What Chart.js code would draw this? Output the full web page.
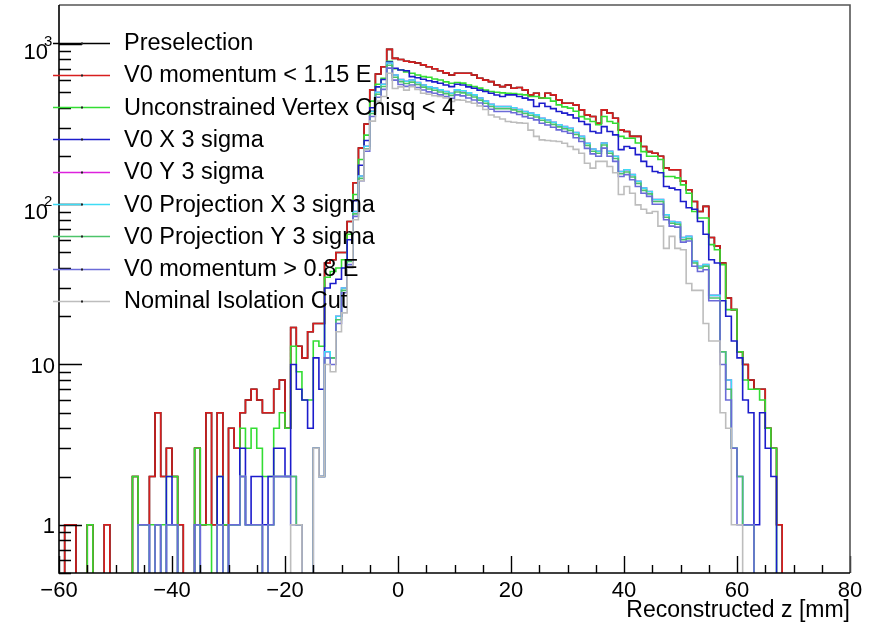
<!DOCTYPE html>
<html>
<head>
<meta charset="utf-8">
<script src="https://cdn.jsdelivr.net/npm/chart.js@4.4.1/dist/chart.umd.min.js"></script>
<style>
  html, body { margin: 0; padding: 0; background: #fff; }
</style>
</head>
<body>
<canvas id="zplot" width="871" height="623"></canvas>
<script>
// histogram binning: 1 mm bins starting at -60 mm
const binStart = -60;
const binWidth = 1;

const xTickValues = [-60, -40, -20, 0, 20, 40, 60, 80];
const yTickValues = [1, 10, 100, 1000];
// mantissa and exponent of the y labels, ROOT prints 10^n with a raised n
const yTickBase = ['1', '10', '10', '10'];
const yTickExp = ['', '', '2', '3'];

const seriesLabels = [
    'Preselection',
    'V0 momentum < 1.15 E',
    'Unconstrained Vertex Chisq < 4',
    'V0 X 3 sigma',
    'V0 Y 3 sigma',
    'V0 Projection X 3 sigma',
    'V0 Projection Y 3 sigma',
    'V0 momentum > 0.8 E',
    'Nominal Isolation Cut'
];
const seriesColors = ['#000000', '#d81e1e', '#33dd33', '#1c1ccc', '#dd22dd', '#3fdcf5', '#4cc46a', '#6b6bd8', '#bdbdbd'];

// counts per bin, first entry is the bin [-60, -59)
const momLow = [
    0, 1, 1, 0, 0, 1, 0, 0, 1, 0,
    0, 0, 0, 2, 1, 1, 2, 5, 2, 3,
    2, 1, 0, 0, 3, 1, 5, 1, 5, 1,
    4, 3, 5, 6, 7, 6, 5, 5, 7, 8,
    4, 17, 13, 11, 16, 18, 18, 43, 45, 50,
    50, 78, 136, 224, 316, 517, 650, 720, 925, 813,
    800, 780, 770, 760, 740, 720, 700, 680, 660, 640,
    656, 656, 656, 640, 611, 595, 582, 555, 542, 555,
    529, 535, 517, 481, 493, 459, 493, 481, 448, 427,
    427, 417, 388, 361, 353, 320, 388, 370, 344, 291,
    284, 265, 265, 229, 213, 208, 199, 168, 164, 164,
    139, 123, 104, 90, 97, 62, 55, 43, 26, 22,
    12, 10, 8, 7, 7, 4, 3, 1
];
// preselection sits exactly under the momentum < 1.15 E curve
const preselection = momLow;
const vtxChisq = [
    0, 0, 0, 0, 0, 1, 0, 0, 0, 0,
    0, 0, 0, 2, 1, 1, 1, 1, 1, 2,
    2, 0, 0, 0, 3, 1, 1, 0, 2, 1,
    1, 1, 4, 3, 4, 3, 2, 2, 4, 5,
    4, 13, 9, 6, 6, 14, 13, 35, 38, 40,
    45, 65, 115, 190, 270, 440, 560, 610, 780, 700,
    690, 670, 656, 640, 625, 620, 605, 596, 580, 568,
    575, 570, 555, 542, 530, 515, 505, 500, 495, 493,
    490, 485, 481, 470, 470, 460, 459, 440, 417, 405,
    398, 380, 352, 340, 328, 313, 353, 328, 320, 265,
    258, 258, 241, 213, 199, 199, 190, 149, 149, 146,
    132, 117, 90, 82, 82, 56, 52, 42, 22, 22,
    12, 8, 7, 7, 6, 4, 3, 0
];
const v0X = [
    0, 0, 0, 0, 0, 0, 0, 0, 0, 0,
    0, 0, 0, 0, 1, 1, 0, 1, 0, 2,
    1, 0, 0, 0, 1, 0, 0, 0, 2, 0,
    1, 1, 3, 1, 2, 2, 1, 2, 3, 3,
    2, 10, 7, 6, 4, 11, 7, 30, 32, 34,
    40, 60, 105, 175, 250, 400, 540, 600, 770, 705,
    688, 680, 625, 615, 602, 590, 580, 568, 555, 542,
    560, 555, 540, 529, 515, 505, 493, 480, 470, 481,
    481, 470, 459, 448, 407, 427, 407, 395, 379, 370,
    361, 345, 328, 315, 284, 278, 305, 284, 271, 219,
    229, 224, 204, 185, 172, 160, 157, 129, 126, 123,
    104, 95, 93, 78, 65, 45, 43, 25, 20, 14,
    11, 6, 5, 1, 5, 3, 2, 0
];
const v0Y = [
    0, 0, 0, 0, 0, 0, 0, 0, 0, 0,
    0, 0, 0, 0, 1, 1, 0, 1, 0, 1,
    1, 0, 0, 0, 1, 0, 0, 0, 1, 0,
    1, 1, 2, 1, 1, 1, 0, 1, 2, 2,
    2, 2, 1, 0, 0, 3, 2, 12, 11, 20,
    30, 45, 90, 150, 230, 380, 500, 560, 760, 640,
    600, 585, 596, 575, 555, 540, 530, 517, 505, 493,
    517, 510, 495, 481, 460, 440, 420, 407, 407, 407,
    400, 390, 379, 370, 361, 344, 335, 325, 313, 305,
    298, 280, 265, 240, 221, 214, 241, 214, 199, 160,
    164, 153, 139, 126, 120, 107, 107, 86, 78, 77,
    62, 63, 44, 41, 42, 27, 27, 12, 8, 3,
    2, 1, 1, 0, 0, 0, 0, 0
];
const projX = [
    0, 0, 0, 0, 0, 0, 0, 0, 0, 0,
    0, 0, 0, 0, 1, 1, 0, 1, 0, 1,
    1, 0, 0, 0, 1, 0, 0, 0, 1, 0,
    1, 1, 2, 1, 1, 1, 0, 1, 2, 2,
    2, 2, 1, 0, 0, 3, 2, 12, 11, 20,
    30, 45, 90, 150, 230, 380, 500, 560, 760, 640,
    600, 585, 596, 575, 555, 540, 530, 517, 505, 493,
    517, 510, 495, 481, 460, 440, 420, 407, 407, 407,
    400, 390, 379, 370, 361, 344, 335, 325, 313, 305,
    298, 280, 265, 240, 221, 214, 241, 214, 199, 160,
    164, 153, 139, 126, 120, 107, 107, 86, 78, 77,
    62, 63, 44, 41, 42, 27, 27, 12, 8, 3,
    2, 1, 1, 0, 0, 0, 0, 0
];
const projY = [
    0, 0, 0, 0, 0, 0, 0, 0, 0, 0,
    0, 0, 0, 0, 1, 1, 0, 1, 0, 1,
    1, 0, 0, 0, 1, 0, 0, 0, 1, 0,
    1, 1, 2, 1, 1, 1, 0, 1, 2, 2,
    2, 2, 1, 0, 0, 3, 2, 11, 11, 19,
    29, 44, 87, 145, 222, 368, 485, 543, 737, 620,
    582, 567, 578, 558, 538, 524, 514, 501, 490, 478,
    501, 495, 480, 467, 446, 427, 407, 395, 395, 395,
    388, 378, 368, 359, 350, 334, 325, 315, 304, 296,
    289, 272, 257, 233, 214, 208, 234, 208, 193, 155,
    159, 148, 135, 122, 116, 104, 104, 83, 76, 75,
    60, 61, 43, 40, 41, 26, 26, 12, 7, 3,
    2, 1, 1, 0, 0, 0, 0, 0
];
const momHigh = [
    0, 0, 0, 0, 0, 0, 0, 0, 0, 0,
    0, 0, 0, 0, 1, 1, 0, 1, 0, 1,
    1, 0, 0, 0, 1, 0, 0, 0, 1, 0,
    1, 1, 2, 1, 1, 1, 0, 1, 2, 2,
    2, 1, 1, 0, 0, 3, 2, 11, 10, 18,
    28, 42, 84, 140, 214, 353, 465, 521, 707, 595,
    558, 544, 554, 535, 516, 502, 493, 481, 470, 458,
    481, 474, 460, 447, 428, 409, 391, 379, 379, 379,
    372, 363, 352, 344, 336, 320, 312, 302, 291, 284,
    277, 260, 246, 223, 206, 199, 224, 199, 185, 149,
    153, 142, 129, 117, 112, 100, 100, 80, 73, 72,
    58, 59, 41, 38, 39, 25, 25, 10, 6, 3,
    1, 1, 1, 0, 0, 0, 0, 0
];
const isolation = [
    0, 0, 0, 0, 0, 0, 0, 0, 0, 0,
    0, 0, 0, 0, 0, 0, 0, 0, 0, 0,
    0, 0, 0, 0, 0, 0, 0, 0, 0, 0,
    0, 0, 0, 0, 0, 0, 0, 0, 0, 0,
    0, 1, 1, 0, 0, 3, 2, 10, 9, 16,
    21, 40, 80, 140, 220, 330, 440, 470, 656, 527,
    540, 515, 542, 520, 493, 485, 475, 470, 460, 437,
    448, 445, 435, 427, 410, 390, 360, 350, 340, 328,
    325, 322, 320, 290, 265, 252, 250, 248, 246, 240,
    229, 220, 208, 180, 168, 185, 185, 172, 157, 115,
    129, 117, 99, 93, 88, 90, 73, 53, 63, 53,
    52, 32, 29, 29, 18, 14, 14, 5, 4, 1,
    1, 0, 0, 0, 0, 0, 0, 0
];

const seriesCounts = [preselection, momLow, vtxChisq, v0X, v0Y, projX, projY, momHigh, isolation];

const yMin = 0.5, yMax = 1750;
const emptyLevel = 0.05; // empty bins drop below the frame, like ROOT does on log scale
const fontFamily = '"Liberation Sans", Arial, Helvetica, sans-serif';

function histPoints(counts) {
    const pts = counts.map((c, i) => ({ x: binStart + i * binWidth, y: c > 0 ? c : emptyLevel }));
    pts.push({ x: binStart + counts.length * binWidth, y: emptyLevel });
    return pts;
}

const datasets = seriesCounts.map((counts, i) => ({
    label: seriesLabels[i],
    data: histPoints(counts),
    borderColor: seriesColors[i],
    borderWidth: 1.6,
    pointRadius: 0,
    fill: false,
    stepped: 'before',
    // later entries are drawn on top, as in the ROOT canvas
    order: seriesCounts.length - i
}));

// ROOT style frame, inward ticks, y labels and legend
const rootStyle = {
    id: 'rootStyle',
    afterDatasetsDraw(chart) {
        const { ctx, chartArea: a, scales } = chart;
        const xs = scales.x, ys = scales.y;
        ctx.save();
        ctx.lineWidth = 1.4;
        ctx.strokeStyle = '#000';
        ctx.beginPath();
        for (let v = -60; v <= 80; v += 5) {
            const px = Math.round(xs.getPixelForValue(v)) + 0.5;
            const len = v % 20 === 0 ? 17 : 8;
            ctx.moveTo(px, a.bottom);
            ctx.lineTo(px, a.bottom - len);
        }
        for (let d = 0.1; d <= 1000; d *= 10) {
            for (let k = 1; k <= 9; k++) {
                const v = d * k;
                if (v < yMin || v > yMax) continue;
                const py = Math.round(ys.getPixelForValue(v)) + 0.5;
                const len = k === 1 ? 23 : 12;
                ctx.moveTo(a.left, py);
                ctx.lineTo(a.left + len, py);
            }
        }
        ctx.stroke();

        // frame
        ctx.lineWidth = 1.6;
        ctx.strokeStyle = '#555';
        ctx.beginPath();
        ctx.moveTo(a.left, a.top);
        ctx.lineTo(a.right, a.top);
        ctx.lineTo(a.right, a.bottom);
        ctx.stroke();
        ctx.strokeStyle = '#000';
        ctx.beginPath();
        ctx.moveTo(a.left, a.top);
        ctx.lineTo(a.left, a.bottom);
        ctx.lineTo(a.right, a.bottom);
        ctx.stroke();

        // y labels
        ctx.fillStyle = '#000';
        ctx.textBaseline = 'middle';
        yTickValues.forEach((v, i) => {
            const py = ys.getPixelForValue(v);
            if (yTickExp[i]) {
                ctx.font = '22px ' + fontFamily;
                ctx.textAlign = 'right';
                ctx.fillText(yTickBase[i], 48, py + 9);
                ctx.font = '15px ' + fontFamily;
                ctx.textAlign = 'left';
                ctx.fillText(yTickExp[i], 44, py - 2);
            } else {
                ctx.font = '22px ' + fontFamily;
                ctx.textAlign = 'right';
                ctx.fillText(yTickBase[i], 55, py + 2);
            }
        });

        // legend
        ctx.font = '23.5px ' + fontFamily;
        ctx.textAlign = 'left';
        ctx.textBaseline = 'alphabetic';
        chart.data.datasets.forEach((ds, i) => {
            const base = 50 + i * 32.3;
            const ly = Math.round(base - 7.5) + 0.5;
            ctx.strokeStyle = ds.borderColor;
            ctx.lineWidth = 1.6;
            ctx.beginPath();
            ctx.moveTo(53, ly);
            ctx.lineTo(110, ly);
            ctx.stroke();
            ctx.fillStyle = '#222';
            ctx.fillRect(81, ly - 1, 2, 2);
            ctx.fillStyle = '#000';
            ctx.fillText(ds.label, 124, base);
        });
        ctx.restore();
    }
};

new Chart(document.getElementById('zplot'), {
    type: 'line',
    data: { datasets: datasets },
    options: {
        responsive: false,
        animation: false,
        events: [],
        layout: { padding: { top: 5, right: 21, left: 0, bottom: 0 } },
        plugins: {
            legend: { display: false },
            tooltip: { enabled: false }
        },
        scales: {
            x: {
                type: 'linear',
                min: -60,
                max: 80,
                grid: { display: false, drawTicks: false },
                border: { display: false },
                afterBuildTicks: scale => { scale.ticks = xTickValues.map(v => ({ value: v })); },
                afterFit: scale => {
                    scale.height = 50;
                    scale.paddingLeft = 0;
                    scale.paddingRight = 0;
                },
                ticks: {
                    autoSkip: false,
                    maxRotation: 0,
                    padding: 5,
                    color: '#000',
                    font: { family: fontFamily, size: 22 },
                    callback: v => String(v).replace('-', '\u2212')
                },
                title: {
                    display: true,
                    text: 'Reconstructed z [mm]',
                    align: 'end',
                    color: '#000',
                    padding: { top: 0, bottom: -1 },
                    font: { family: fontFamily, size: 23 }
                }
            },
            y: {
                type: 'logarithmic',
                min: yMin,
                max: yMax,
                grid: { display: false, drawTicks: false },
                border: { display: false },
                afterBuildTicks: scale => { scale.ticks = yTickValues.map(v => ({ value: v })); },
                afterFit: scale => {
                    scale.width = 59;
                    scale.paddingTop = 0;
                    scale.paddingBottom = 0;
                },
                ticks: { display: false }
            }
        }
    },
    plugins: [rootStyle]
});
</script>
</body>
</html>
